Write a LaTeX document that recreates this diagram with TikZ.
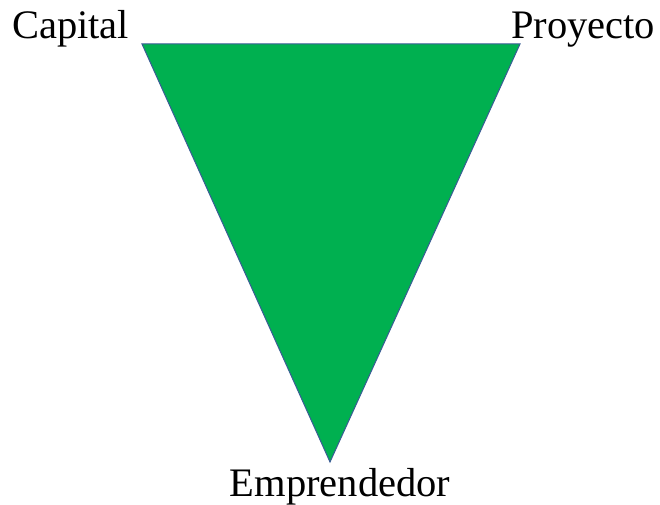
\documentclass[tikz,border=0pt]{standalone}
\usepackage{fontspec}
\setmainfont{Liberation Serif}
\definecolor{trigreen}{HTML}{00B050}
\definecolor{triedge}{HTML}{3A5C95}
\tikzset{lbl/.style={inner sep=0pt, font=\fontsize{40.5}{45}\selectfont}}
\begin{document}
\begin{tikzpicture}[x=1pt,y=1pt]
\useasboundingbox (0,0) rectangle (660,505);
\coordinate (tl) at (142,461);
\coordinate (tr) at (520,461);
\coordinate (bt) at (330,43);
\fill[trigreen, draw=triedge, line width=1pt, line join=miter] (tl) -- (tr) -- (bt) -- cycle;
\node[lbl, anchor=base west] (cap) at (12,466) {Capital};
\node[lbl, anchor=base west] (pro) at (511,466) {Proyecto};
\node[lbl, anchor=base] (emp) at (340,9) {Emprendedor};
\end{tikzpicture}
\end{document}
